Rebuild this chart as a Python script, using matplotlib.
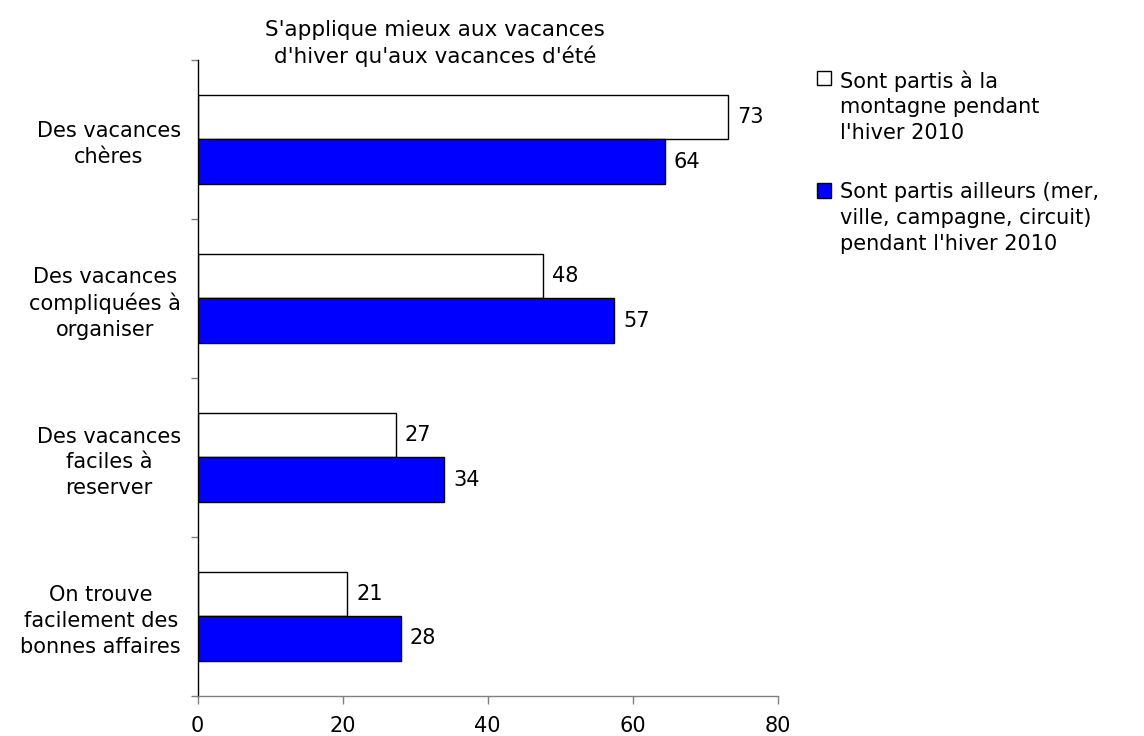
import numpy as np
import matplotlib
matplotlib.use("Agg")
import matplotlib.pyplot as plt
from matplotlib.patches import Rectangle

categories = ["Des vacances\nchères",
              "Des vacances\ncompliquées à\norganiser",
              "Des vacances\nfaciles à\nreserver",
              "On trouve\nfacilement des\nbonnes affaires"]
montagne = [73.2, 47.6, 27.3, 20.6]
ailleurs = [64.4, 57.4, 34.0, 28.0]
xticks = [0, 20, 40, 60, 80]
series_names = ["Sont partis à la\nmontagne pendant\nl'hiver 2010",
                "Sont partis ailleurs (mer,\nville, campagne, circuit)\npendant l'hiver 2010"]
title = "S'applique mieux aux vacances\nd'hiver qu'aux vacances d'été"

plt.rcParams['font.family'] = ['DejaVu Sans']
FS = 15
W, H = 1144, 736
fig = plt.figure(figsize=(W / 100, H / 100), dpi=100)
ax = fig.add_axes([197.7 / W, 1 - 695.7 / H, 580 / W, (695.7 - 60) / H])

y = np.arange(len(categories))
h = 0.28
b1 = ax.barh(y - h / 2, montagne, height=h, color='white', edgecolor='black', linewidth=1.0)
b2 = ax.barh(y + h / 2, ailleurs, height=h, color='#0000FF', edgecolor='black', linewidth=1.0)
ax.bar_label(b1, labels=[f"{v:.0f}" for v in montagne], padding=6.5, fontsize=FS)
ax.bar_label(b2, labels=[f"{v:.0f}" for v in ailleurs], padding=6.5, fontsize=FS)

ax.set_xlim(0, 80)
ax.set_ylim(len(categories) - 0.5, -0.5)
ax.set_xticks(xticks)
ax.set_xticklabels([str(t) for t in xticks])
ax.set_yticks(y)
ax.set_yticklabels(categories)
ax.set_yticks(np.arange(len(categories) + 1) - 0.5, minor=True)
ax.tick_params(axis='x', length=6, width=1, color='#808080', pad=8.5, labelsize=FS)
ax.tick_params(axis='y', which='major', length=0, pad=12, labelsize=FS)
ax.tick_params(axis='y', which='minor', length=5, width=1, color='#808080')
for t in ax.get_yticklabels():
    t.set_multialignment('center')
    t.set_linespacing(1.35)

for s in ['top', 'right']:
    ax.spines[s].set_visible(False)
ax.spines['left'].set_color('black')
ax.spines['left'].set_linewidth(1.0)
ax.spines['bottom'].set_color('#808080')
ax.spines['bottom'].set_linewidth(1.0)

fig.text(435 / W, 1 - 19.5 / H, title, ha='center', va='top', multialignment='center',
         fontsize=15.5, linespacing=1.35)

legend_colors = ['white', '#0000FF']
legend_top = [70, 182.5]
for name, col, top in zip(series_names, legend_colors, legend_top):
    fig.patches.append(Rectangle((817 / W, 1 - (top + 15) / H), 14 / W, 14 / H,
                                 transform=fig.transFigure, facecolor=col,
                                 edgecolor='black', linewidth=1.0))
    fig.text(840 / W, 1 - top / H, name, ha='left', va='top', fontsize=FS, linespacing=1.35)

fig.savefig("out.png", dpi=100)
